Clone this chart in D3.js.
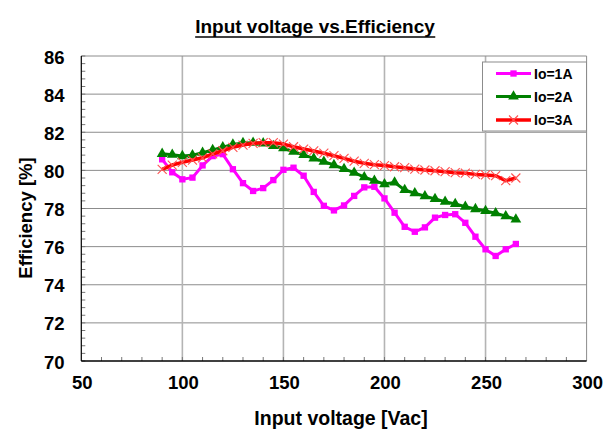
<!DOCTYPE html>
<html>
<head>
<meta charset="utf-8">
<script src="https://d3js.org/d3.v7.min.js"></script>
<style>
  body { margin: 0; background: #fff; }
  svg { font-family: "Liberation Sans", Arial, sans-serif; font-weight: bold; }
</style>
</head>
<body>
<svg id="chart" width="611" height="433"></svg>
<script>
// input voltage (Vac), one point every 5 V
var voltage = [90, 95, 100, 105, 110, 115, 120, 125, 130, 135, 140, 145, 150, 155, 160, 165, 170, 175,
               180, 185, 190, 195, 200, 205, 210, 215, 220, 225, 230, 235, 240, 245, 250, 255, 260, 265];

var eff1A = [80.58, 79.90, 79.53, 79.62, 80.26, 80.75, 80.85, 80.06, 79.33, 78.92, 79.07, 79.49, 80.03, 80.14, 79.72, 78.87, 78.14, 77.90,
             78.16, 78.66, 79.11, 79.14, 78.53, 77.78, 77.04, 76.78, 77.01, 77.52, 77.66, 77.70, 77.25, 76.52, 75.86, 75.51, 75.86, 76.14];

var eff2A = [80.87, 80.82, 80.75, 80.80, 80.93, 81.07, 81.22, 81.36, 81.44, 81.45, 81.42, 81.28, 81.16, 80.98, 80.81, 80.63, 80.46, 80.28,
             80.08, 79.88, 79.64, 79.46, 79.28, 79.37, 78.97, 78.80, 78.65, 78.50, 78.36, 78.24, 78.10, 77.97, 77.87, 77.75, 77.60, 77.43];

var eff3A = [80.05, 80.28, 80.42, 80.54, 80.66, 80.86, 81.03, 81.21, 81.33, 81.42, 81.45, 81.45, 81.38, 81.24, 81.12, 81.02, 80.90, 80.77,
             80.63, 80.48, 80.37, 80.30, 80.25, 80.19, 80.14, 80.07, 80.02, 79.98, 79.93, 79.88, 79.85, 79.79, 79.76, 79.72, 79.46, 79.60];

var seriesNames = ["Io=1A", "Io=2A", "Io=3A"];
var xTicks = [50, 100, 150, 200, 250, 300];
var yTicks = [70, 72, 74, 76, 78, 80, 82, 84, 86];

var plotLeft = 81.3, plotRight = 586.6, plotTop = 56, plotBottom = 361;

var x = d3.scaleLinear().domain([50, 300]).range([plotLeft, plotRight]);
var y = d3.scaleLinear().domain([70, 86]).range([plotBottom, plotTop]);

var svg = d3.select("#chart");

// title
var title = svg.append("text")
  .attr("x", 315).attr("y", 33)
  .attr("text-anchor", "middle")
  .style("font-size", "19px")
  .text("Input voltage vs.Efficiency");
var tb = title.node().getBBox();
svg.append("line")
  .attr("x1", tb.x).attr("x2", tb.x + tb.width)
  .attr("y1", 37).attr("y2", 37)
  .attr("stroke", "#000").attr("stroke-width", 1.5);

// gridlines
svg.append("g").selectAll("line")
  .data(yTicks.slice(1, -1))
  .enter().append("line")
  .attr("x1", plotLeft).attr("x2", plotRight)
  .attr("y1", function(d) { return y(d); }).attr("y2", function(d) { return y(d); })
  .attr("stroke", "#8c8c8c").attr("stroke-width", 1);

svg.append("g").selectAll("line")
  .data(xTicks.slice(1, -1))
  .enter().append("line")
  .attr("x1", function(d) { return x(d); }).attr("x2", function(d) { return x(d); })
  .attr("y1", plotTop).attr("y2", plotBottom)
  .attr("stroke", "#b4b4b4").attr("stroke-width", 1.6);

// top/right border
svg.append("path")
  .attr("d", "M" + plotLeft + "," + plotTop + "H" + plotRight + "V" + plotBottom)
  .attr("fill", "none").attr("stroke", "#8c8c8c").attr("stroke-width", 1);

// minor ticks
var yMinor = d3.range(70, 86.01, 0.4);
svg.append("g").selectAll("line")
  .data(yMinor)
  .enter().append("line")
  .attr("x1", plotLeft).attr("x2", plotLeft + 4)
  .attr("y1", function(d) { return y(d); }).attr("y2", function(d) { return y(d); })
  .attr("stroke", "#777").attr("stroke-width", 1);

var xMinor = d3.range(60, 300, 10);
svg.append("g").selectAll("line")
  .data(xMinor)
  .enter().append("line")
  .attr("x1", function(d) { return x(d); }).attr("x2", function(d) { return x(d); })
  .attr("y1", plotBottom).attr("y2", plotBottom - 4)
  .attr("stroke", "#777").attr("stroke-width", 1);

// axes lines
svg.append("line").attr("x1", plotLeft).attr("x2", plotLeft).attr("y1", plotTop).attr("y2", plotBottom)
  .attr("stroke", "#000").attr("stroke-width", 1.2);
svg.append("line").attr("x1", plotLeft).attr("x2", plotRight).attr("y1", plotBottom).attr("y2", plotBottom)
  .attr("stroke", "#000").attr("stroke-width", 1.5);

// tick labels
svg.append("g").selectAll("text")
  .data(yTicks)
  .enter().append("text")
  .attr("x", 64.5).attr("y", function(d) { return y(d) + 7.5; })
  .attr("text-anchor", "end")
  .style("font-size", "18.5px")
  .text(function(d) { return d; });

svg.append("g").selectAll("text")
  .data(xTicks)
  .enter().append("text")
  .attr("x", function(d) { return x(d) + 1; }).attr("y", 388.5)
  .attr("text-anchor", "middle")
  .style("font-size", "18.5px")
  .text(function(d) { return d; });

// axis titles
svg.append("text")
  .attr("x", 341).attr("y", 424.5)
  .attr("text-anchor", "middle")
  .style("font-size", "19.5px")
  .text("Input voltage [Vac]");

svg.append("text")
  .attr("transform", "translate(32,218)rotate(-90)")
  .attr("text-anchor", "middle")
  .style("font-size", "18.5px")
  .text("Efficiency [%]");

// series
var series = [
  { name: seriesNames[0], values: eff1A, color: "#ff00ff", width: 3, marker: "square" },
  { name: seriesNames[1], values: eff2A, color: "#008000", width: 3, marker: "triangle" },
  { name: seriesNames[2], values: eff3A, color: "#ff0000", width: 3.5, marker: "cross" }
];

var line = d3.line()
  .x(function(d) { return x(d[0]); })
  .y(function(d) { return y(d[1]); });

function drawMarker(sel, s) {
  if (s.marker === "square") {
    sel.append("path").attr("d", d3.symbol(d3.symbolSquare, 40)()).attr("fill", s.color);
  } else if (s.marker === "triangle") {
    sel.append("path").attr("d", d3.symbol(d3.symbolTriangle, 50)()).attr("fill", s.color);
  } else {
    sel.append("path").attr("d", "M-4.5,-4.5L4.5,4.5M-4.5,4.5L4.5,-4.5")
      .attr("stroke", "#ff5050").attr("stroke-width", 1.1).attr("fill", "none");
  }
}

series.forEach(function(s) {
  var pts = voltage.map(function(v, i) { return [v, s.values[i]]; });
  var g = svg.append("g");
  g.append("path")
    .attr("d", line(pts))
    .attr("fill", "none")
    .attr("stroke", s.color)
    .attr("stroke-width", s.width)
    .attr("stroke-linejoin", "round");
  g.selectAll("g.m")
    .data(pts)
    .enter().append("g").attr("class", "m")
    .attr("transform", function(d) { return "translate(" + x(d[0]) + "," + y(d[1]) + ")"; })
    .each(function() { drawMarker(d3.select(this), s); });
});

// legend
var legend = svg.append("g");
legend.append("rect")
  .attr("x", 482.5).attr("y", 62).attr("width", 104).attr("height", 69)
  .attr("fill", "#fff").attr("stroke", "#8c8c8c").attr("stroke-width", 1);

var legendY = [73.5, 96.5, 120];
series.forEach(function(s, i) {
  var row = legend.append("g");
  row.append("line")
    .attr("x1", 496).attr("x2", 531)
    .attr("y1", legendY[i]).attr("y2", legendY[i])
    .attr("stroke", s.color).attr("stroke-width", s.width);
  var m = row.append("g").attr("transform", "translate(513.5," + legendY[i] + ")");
  drawMarker(m, s);
  row.append("text")
    .attr("x", 534).attr("y", legendY[i] + 5)
    .style("font-size", "14px")
    .text(s.name);
});
</script>
</body>
</html>
